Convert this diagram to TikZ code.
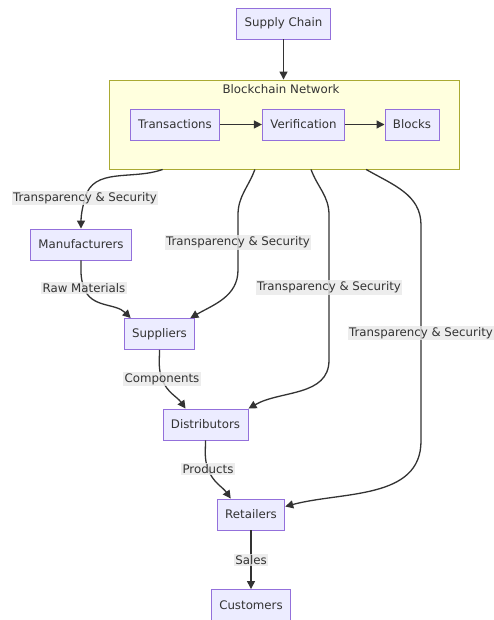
\documentclass[tikz,border=0pt]{standalone}
\usepackage{fontspec}
\setmainfont{DejaVu Sans}
\usetikzlibrary{arrows.meta,calc}
\definecolor{boxfill}{HTML}{ECECFF}
\definecolor{boxline}{HTML}{9370DB}
\definecolor{netfill}{HTML}{FFFFDE}
\definecolor{netline}{HTML}{AAAA33}
\definecolor{inkgray}{HTML}{333333}
\definecolor{tagfill}{HTML}{E8E8E8}
\tikzstyle{stage}=[rectangle, draw=boxline, fill=boxfill, line width=0.9pt, text=inkgray, minimum height=31pt, inner xsep=8pt, font=\fontsize{11.8}{14}\selectfont]
\tikzstyle{netbox}=[rectangle, draw=netline, fill=netfill, line width=0.9pt]
\tikzstyle{tag}=[fill=tagfill, fill opacity=0.8, text opacity=1, inner sep=1.5pt, text=inkgray, font=\fontsize{11.8}{14}\selectfont]
\tikzstyle{flow}=[draw=inkgray, line width=1.3pt, -{Triangle[length=8pt,width=8pt]}]
\newcommand{\stage}{\node[stage]}

\begin{document}
\begin{tikzpicture}[x=1pt, y=-1pt]
\useasboundingbox (0,0) rectangle (493,620);
\node[netbox, minimum width=350pt, minimum height=89pt] (net) at (284,124.5) {};
\node[text=inkgray, font=\fontsize{11.8}{14}\selectfont] (nettitle) at (281,89) {Blockchain Network};
\stage (sc) at (283.5,23.5) {Supply Chain};
\stage (tx) at (175,124.5) {Transactions};
\stage (ver) at (303.5,124.5) {Verification};
\stage (blk) at (412,124.5) {Blocks};
\stage (man) at (81,244.5) {Manufacturers};
\stage (sup) at (159.5,334) {Suppliers};
\stage (dist) at (205.5,424.5) {Distributors};
\stage (ret) at (251,514.5) {Retailers};
\stage (cust) at (251,605) {Customers};
\coordinate (out1) at ($(net.south west)!0.154!(net.south east)$);
\coordinate (out2) at ($(net.south west)!0.417!(net.south east)$);
\coordinate (out3) at ($(net.south west)!0.577!(net.south east)$);
\coordinate (out4) at ($(net.south west)!0.734!(net.south east)$);
\draw[flow] (sc.south) -- (sc.south |- net.north);
\draw[flow] (tx) -- (ver);
\draw[flow] (ver) -- (blk);
% from the network down to every party
\draw[flow] (out1) to[out=200,in=75] (85,198) node[tag] {Transparency \& Security} to[out=-105,in=90] (man.north);
\draw[flow] (out2) to[out=-110,in=90] (238,215) -- node[tag] {Transparency \& Security} (238,270) to[out=-90,in=30] ([xshift=-5pt]sup.north east);
\draw[flow] (out3) to[out=-70,in=90] (329,215) -- node[tag] {Transparency \& Security} (329,360) to[out=-90,in=30] (dist.north east);
\draw[flow] (out4) to[out=-30,in=90] (421,225) -- node[tag] {Transparency \& Security} (421,441) to[out=-90,in=15] ([yshift=8pt]ret.east);
% goods along the chain
\draw[flow] (man.south) to[out=-90,in=110] (84,288) node[tag] {Raw Materials} to[out=-70,in=135] ([xshift=7pt]sup.north west);
\draw[flow] (sup.south) to[out=-90,in=110] (162,379) node[tag] {Components} to[out=-70,in=125] ([xshift=23pt]dist.north west);
\draw[flow] (dist.south) to[out=-90,in=110] (208,469) node[tag] {Products} to[out=-70,in=125] ([xshift=14pt]ret.north west);
\draw[flow] (ret) -- node[tag] {Sales} (cust);
\end{tikzpicture}
\end{document}
